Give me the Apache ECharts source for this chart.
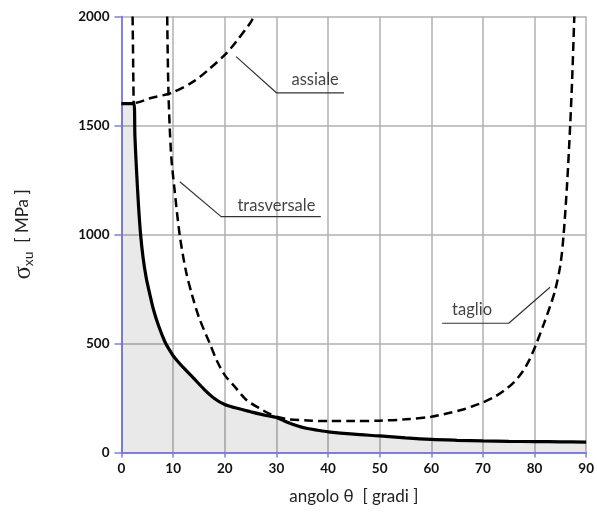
<!DOCTYPE html>
<html>
<head>
<meta charset="utf-8">
<script src="https://cdn.jsdelivr.net/npm/echarts@6/dist/echarts.min.js"></script>
<style>html,body{margin:0;padding:0;background:#fff;}#c{width:597px;height:519px;}</style>
</head>
<body>
<div id="c"></div>
<script>
// ---- data ----
var xTicks = [0, 10, 20, 30, 40, 50, 60, 70, 80, 90];
var yTicks = [0, 500, 1000, 1500, 2000];

// envelope (solid black, filled)
var envelope = [[0,1600],[2.4,1600],[2.6,1450],[2.9,1300],[3.3,1130],[3.7,1000],[4.2,890],[4.8,800],[5.4,735],[6.2,655],[7.2,580],[8.4,508],[9.2,474],[10,444],[11,415],[12,389],[14,340],[16,290],[18,248],[20,220],[22,205],[25,187],[28,170],[30,161],[32,140],[34,123],[36,110],[38,102],[40,95],[45,84],[50,76],[55,67],[60,60],[65,56],[70,53],[75,51],[80,50],[85,49],[90,48]];

// assiale (dashed)
var assiale = [[0,1600],[3,1605],[5.5,1625],[9.7,1650],[13.9,1701],[16.8,1755],[20.3,1831],[22.2,1884],[25.1,1976],[25.6,2000]];

// trasversale (dashed)
var trasversale = [[8.85,2000],[9.1,1650],[9.6,1370],[10.3,1200],[11.3,993],[12.5,830],[13.7,720],[15,620],[17.1,500],[18.5,420],[20,355],[22,300],[24.2,241],[26.7,203],[28.5,180],[30,164]];

// taglio (dashed) – left branch and right branch
var taglioLeft = [[2.15,2000],[2.25,1800],[2.35,1600]];
var taglioRight = [[30,164],[32.5,152],[36,147],[40,144],[45,144],[50,146],[55,152],[60,164],[63,179],[66,196],[68,212],[70,230],[72,252],[74,282],[76,322],[77.6,368],[79,425],[80.2,490],[81.8,590],[83,670],[84,745],[85,860],[85.6,990],[86.3,1230],[86.9,1500],[87.3,1720],[87.7,2000]];

// annotation labels and leader lines (data coordinates)
var labelNames = ['assiale', 'trasversale', 'taglio'];
var labelPos = [[37.5,1708],[30,1131],[67.9,654]];
var leaderAssiale = [[22.2,1816],[30,1650],[43.1,1650]];
var leaderTrasversale = [[11.3,1242],[19.3,1082],[38.6,1082]];
var leaderTaglio = [[83,758],[75,593],[62.1,593]];

// ---- chart ----
var BLUE = '#7c7cf0';
var GRIDC = '#b0b0b0';
var chart = echarts.init(document.getElementById('c'), null, {renderer: 'canvas'});

function dashed(data) {
  return {
    type: 'line', data: data, showSymbol: false, symbol: 'none', silent: true, smooth: 0.3,
    lineStyle: {color: '#000', width: 2.5, type: [9, 5]}, z: 3
  };
}
function leader(data) {
  return {
    type: 'line', data: data, showSymbol: false, symbol: 'none', silent: true,
    lineStyle: {color: '#333', width: 1.2}, z: 4
  };
}

var labelData = labelNames.map(function (n, i) { return {name: n, value: labelPos[i]}; });

chart.setOption({
  animation: false,
  backgroundColor: '#fff',
  grid: {left: 121.5, right: 9.5, top: 16.5, bottom: 66.5, containLabel: false},
  xAxis: [{
    type: 'value', min: 0, max: 90, interval: 10, position: 'bottom',
    axisLine: {show: true, lineStyle: {color: BLUE, width: 1.5}},
    axisTick: {show: false},
    splitLine: {show: true, lineStyle: {color: GRIDC, width: 1.5}},
    axisLabel: {color: '#111', fontFamily: 'Lato', fontWeight: 'bold', fontSize: 13.5, margin: 9,
      formatter: function (v) { return xTicks.indexOf(v) >= 0 ? String(v) : ''; }},
    name: 'angolo θ  [ gradi ]', nameLocation: 'middle', nameGap: 36,
    nameTextStyle: {color: '#222', fontFamily: 'Lato', fontSize: 17}
  }, {
    type: 'value', min: 0, max: 90, interval: 10, position: 'top',
    axisLine: {show: true, lineStyle: {color: BLUE, width: 1.5}},
    axisTick: {show: true, inside: true, length: 5, lineStyle: {color: BLUE, width: 1.5}},
    splitLine: {show: false}, axisLabel: {show: false}
  }],
  yAxis: [{
    type: 'value', min: 0, max: 2000, interval: 500, position: 'left',
    axisLine: {show: true, lineStyle: {color: BLUE, width: 1.5}},
    axisTick: {show: false},
    splitLine: {show: true, lineStyle: {color: GRIDC, width: 1.5}},
    axisLabel: {color: '#111', fontFamily: 'Lato', fontWeight: 'bold', fontSize: 13.5, margin: 12,
      formatter: function (v) { return yTicks.indexOf(v) >= 0 ? String(v) : ''; }},
    name: '{s|σ}{sub|xu}{t|  [ MPa ]}', nameLocation: 'middle', nameGap: 86, nameRotate: 90,
    nameTextStyle: {
      color: '#222',
      rich: {
        s: {fontFamily: 'Liberation Serif', fontSize: 25, color: '#222'},
        sub: {fontFamily: 'Lato', fontSize: 14, color: '#222', verticalAlign: 'bottom', padding: [8, 0, 0, 0]},
        t: {fontFamily: 'Lato', fontSize: 17, color: '#222'}
      }
    }
  }, {
    type: 'value', min: 0, max: 2000, interval: 500, position: 'right',
    axisLine: {show: true, lineStyle: {color: BLUE, width: 1.5}},
    axisTick: {show: true, inside: true, length: 7, lineStyle: {color: BLUE, width: 1.5}},
    splitLine: {show: false}, axisLabel: {show: false}
  }],
  series: [
    {
      type: 'line', data: envelope, showSymbol: false, symbol: 'none', silent: true, smooth: 0.3,
      lineStyle: {color: '#000', width: 3.2},
      areaStyle: {color: 'rgba(0,0,0,0.12)', origin: 'start'}, z: 5
    },
    dashed(assiale),
    dashed(trasversale),
    dashed(taglioLeft),
    dashed(taglioRight),
    leader(leaderAssiale),
    leader(leaderTrasversale),
    leader(leaderTaglio),
    {
      type: 'scatter', data: labelData, symbolSize: 0, silent: true, z: 6,
      label: {show: true, position: 'inside', formatter: '{b}', color: '#111', fontFamily: 'Lato', fontSize: 16.5}
    }
  ]
});
</script>
</body>
</html>
